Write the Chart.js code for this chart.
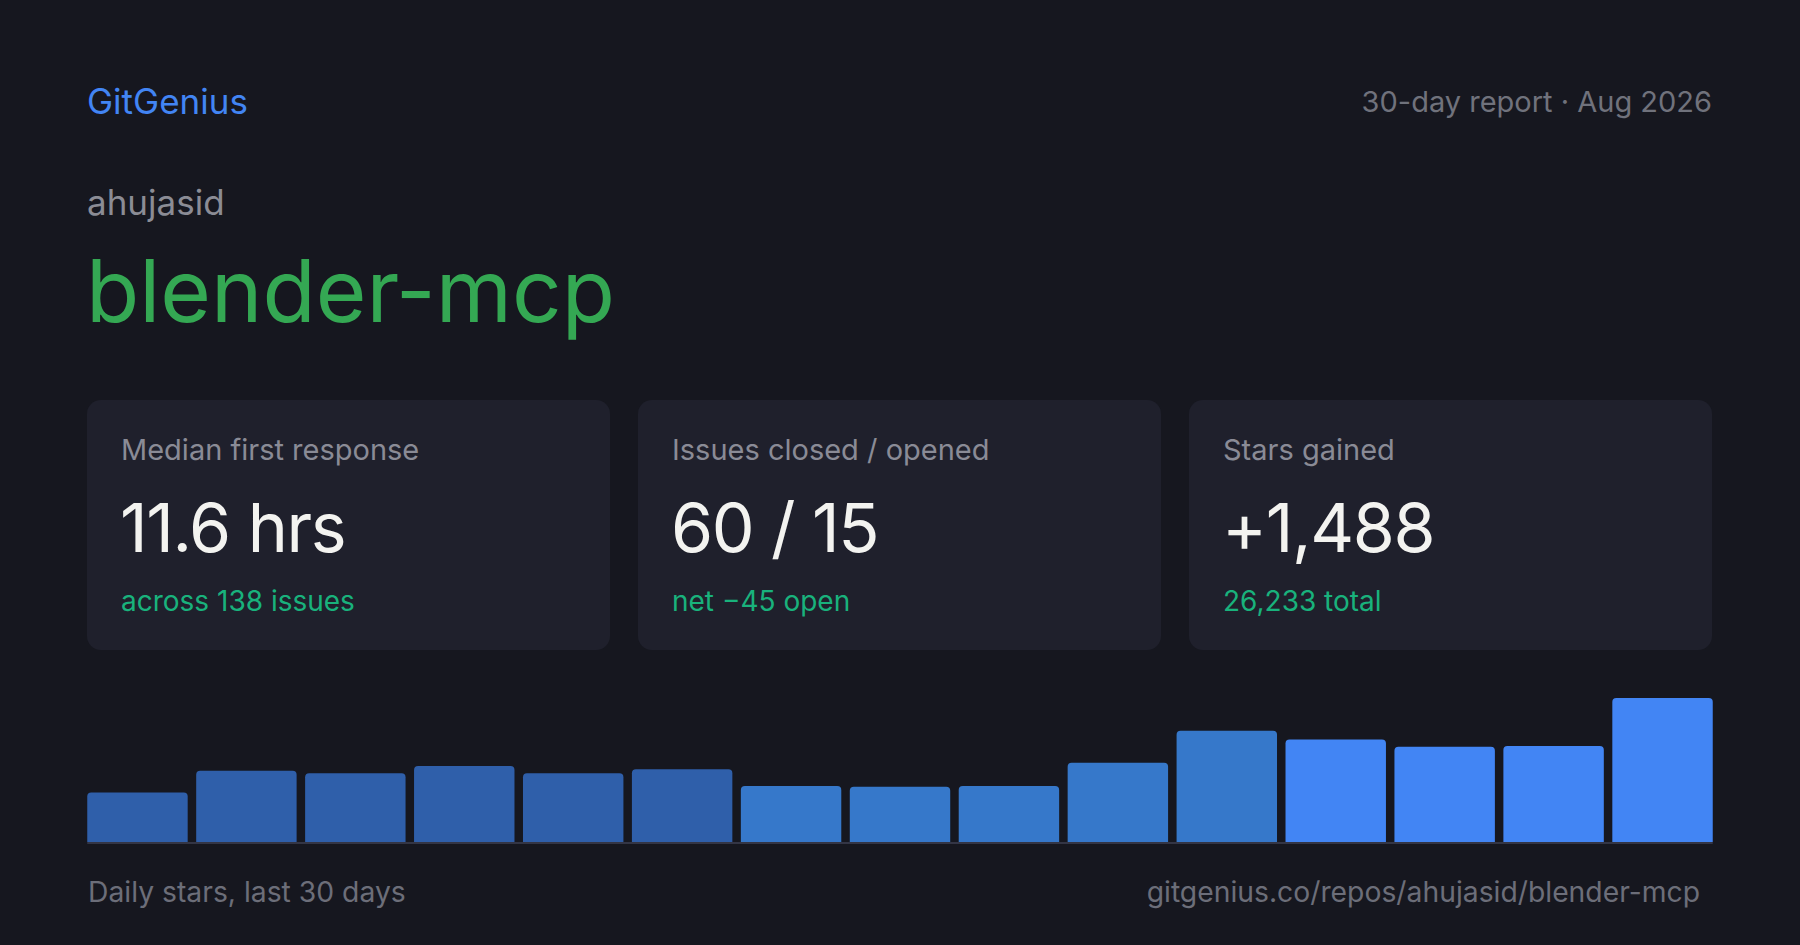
<!DOCTYPE html>
<html>
<head>
<meta charset="utf-8">
<title>GitGenius – blender-mcp</title>
<script src="https://cdn.jsdelivr.net/npm/chart.js@4/dist/chart.umd.min.js"></script>
<style>
  html, body {
    margin: 0;
    padding: 0;
    background: #16171f;
    width: 1800px;
    height: 945px;
    overflow: hidden;
    font-family: Inter, "Noto Sans", sans-serif;
  }
  .abs { position: absolute; line-height: 1; white-space: nowrap; }
  .brand { left: 87px; top: 84px; font-size: 35px; color: #4285f4; }
  .report { right: 88px; top: 87px; font-size: 29px; color: #70727c; }
  .owner { left: 87px; top: 185px; font-size: 35px; color: #8b8c95; }
  .repo { left: 86px; top: 247px; font-size: 87px; color: #34a853; }
  .card {
    position: absolute;
    top: 400px;
    width: 523px;
    height: 250px;
    border-radius: 14px;
    background: #1f202c;
  }
  .card .label { left: 34px; top: 35px; font-size: 29px; color: #8a8b96; }
  .card .value {
    left: 33px; top: 93px; font-size: 68px; color: #f3f3f0;
    font-variant-numeric: proportional-nums;
    letter-spacing: -0.02em;
  }
  .card .sub { left: 34px; top: 187px; font-size: 28px; color: #19b27c; }
  .foot { top: 878px; font-size: 28.3px; color: #6c6e79; }
  .foot.left { left: 88px; }
  .foot.right { right: 100px; }
  #starsChart { position: absolute; left: 83px; top: 690px; }
</style>
</head>
<body>

<div class="abs brand">GitGenius</div>
<div class="abs report">30-day report · Aug 2026</div>
<div class="abs owner">ahujasid</div>
<div class="abs repo">blender-mcp</div>

<div id="cards"></div>

<canvas id="starsChart" width="1634" height="160"></canvas>

<div class="abs foot left">Daily stars, last 30 days</div>
<div class="abs foot right">gitgenius.co/repos/ahujasid/blender-mcp</div>

<script>
// Stat cards
const cardLabels = ['Median first response', 'Issues closed / opened', 'Stars gained'];
const cardValues = ['11.6 hrs', '60 / 15', '+1,488'];
const cardSubs = ['across 138 issues', 'net −45 open', '26,233 total'];

// Star buckets, oldest to newest
const bucketLabels = ['1', '2', '3', '4', '5', '6', '7', '8', '9', '10', '11', '12', '13', '14', '15'];
const starValues = [62, 89, 86, 95, 86, 91, 70, 69, 70, 99, 139, 128, 119, 120, 180];

// Bar shades by age of bucket
const shadeOld = '#2f5faa';
const shadeMid = '#3678ca';
const shadeNew = '#4285f4';

function barColor(index) {
  if (index < 6) return shadeOld;
  if (index < 11) return shadeMid;
  return shadeNew;
}

function renderCards() {
  const wrap = document.getElementById('cards');
  cardLabels.forEach(function(label, i) {
    const card = document.createElement('div');
    card.className = 'card';
    card.style.left = (87 + i * 551) + 'px';
    card.innerHTML =
      '<div class="abs label">' + label + '</div>' +
      '<div class="abs value">' + cardValues[i] + '</div>' +
      '<div class="abs sub">' + cardSubs[i] + '</div>';
    wrap.appendChild(card);
  });
}

// Thin baseline under the bars, from first bar edge to last bar edge
const baselinePlugin = {
  id: 'baseline',
  afterDatasetsDraw(chart) {
    const bars = chart.getDatasetMeta(0).data;
    if (!bars.length) return;
    const first = bars[0];
    const last = bars[bars.length - 1];
    const left = first.x - first.width / 2;
    const right = last.x + last.width / 2;
    const ctx = chart.ctx;
    ctx.save();
    ctx.fillStyle = '#333545';
    ctx.fillRect(left, chart.chartArea.bottom, right - left, 2);
    ctx.restore();
  }
};

function initStarsChart() {
  const ctx = document.getElementById('starsChart');
  new Chart(ctx, {
    type: 'bar',
    data: {
      labels: bucketLabels,
      datasets: [{
        label: 'Stars',
        data: starValues,
        backgroundColor: function(c) { return barColor(c.dataIndex); },
        borderRadius: 4,
        borderSkipped: 'start',
        barPercentage: 0.922,
        categoryPercentage: 1
      }]
    },
    options: {
      responsive: false,
      animation: false,
      layout: {
        padding: { top: 8, bottom: 8, left: 0, right: 0 }
      },
      plugins: {
        legend: { display: false },
        tooltip: { enabled: false }
      },
      scales: {
        x: { display: false },
        y: {
          display: false,
          min: 0,
          max: Math.max.apply(null, starValues)
        }
      }
    },
    plugins: [baselinePlugin]
  });
}

renderCards();
initStarsChart();
</script>
</body>
</html>
